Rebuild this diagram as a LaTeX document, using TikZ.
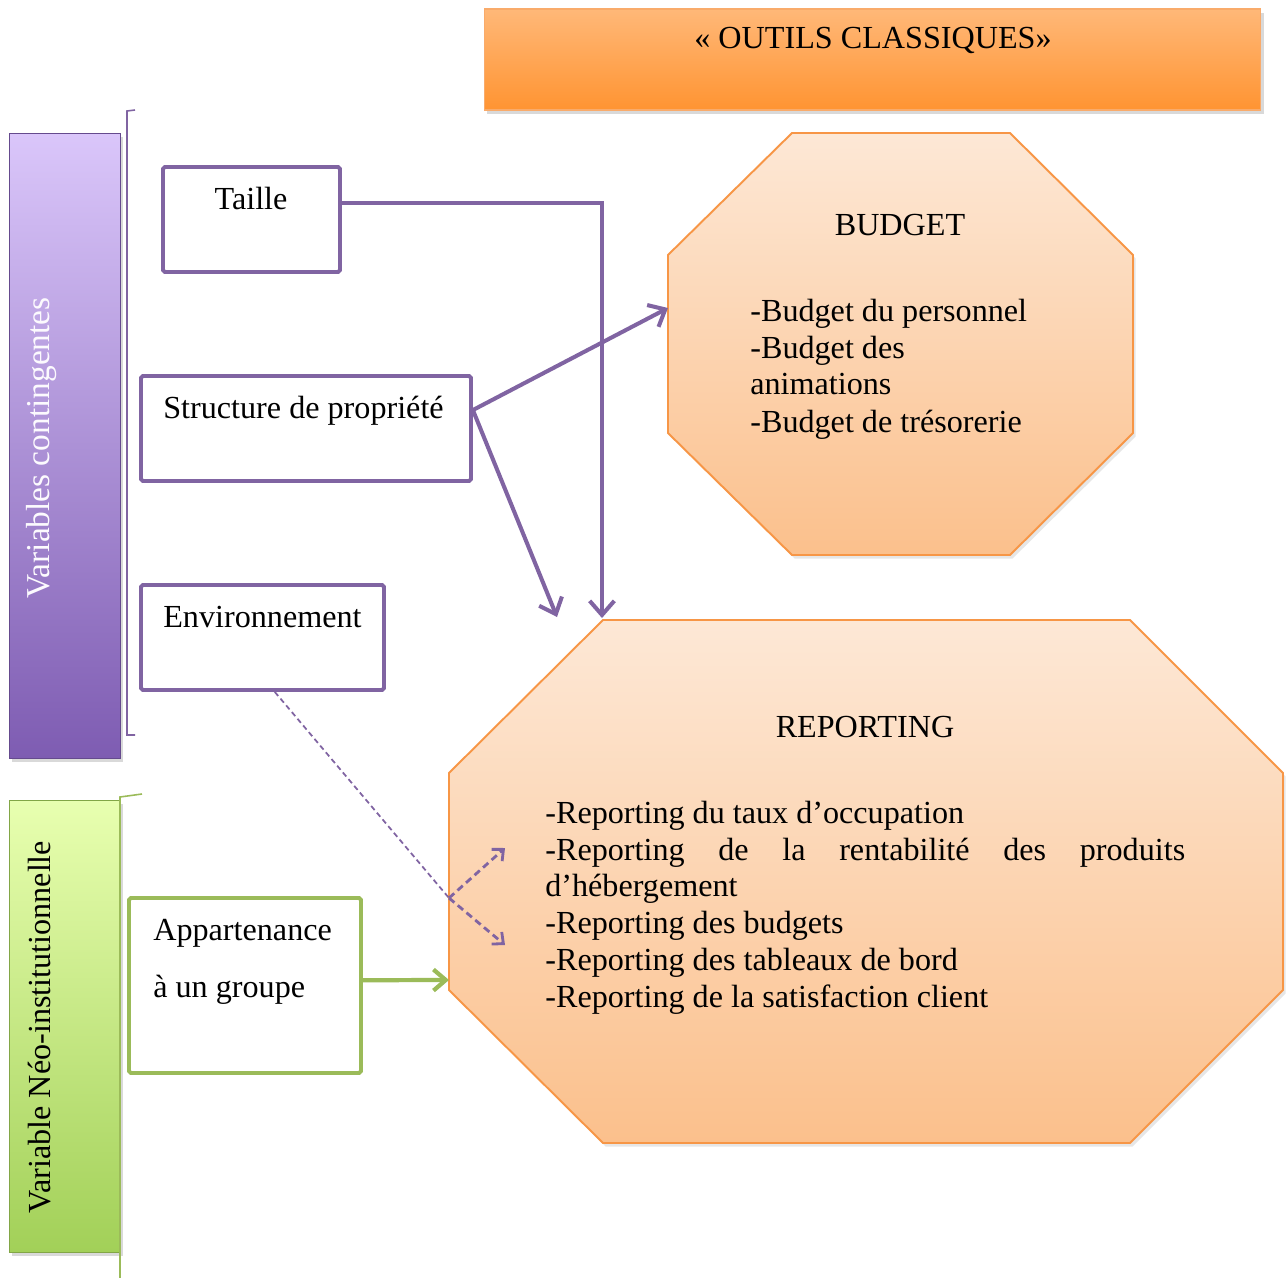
\documentclass[tikz,border=0pt]{standalone}
\usepackage{fontspec}
\setmainfont{Liberation Serif}
\usetikzlibrary{arrows.meta,shadows}

\definecolor{vpurple}{HTML}{8064A2}
\definecolor{vgreen}{HTML}{9BBB59}
\definecolor{vorange}{HTML}{F79646}
\definecolor{bantop}{HTML}{FFB878}
\definecolor{banbot}{HTML}{FF9432}
\definecolor{octtop}{HTML}{FDE8D6}
\definecolor{octbot}{HTML}{FBC08C}
\definecolor{pbartop}{HTML}{DAC6FA}
\definecolor{pbarbot}{HTML}{7E5CB2}
\definecolor{gbartop}{HTML}{E8FFB0}
\definecolor{gbarbot}{HTML}{A2D058}

\begin{document}
\begin{tikzpicture}[x=0.02cm,y=-0.02cm,
  txt/.style={font=\fontsize{18.3}{21}\selectfont,inner sep=0pt},
  shad/.style={drop shadow={opacity=0.3,shadow xshift=1.5pt,shadow yshift=-2.5pt}},
  bar/.style={draw=#1!80!black,line width=0.5pt,minimum width=2.22cm,inner sep=0pt,shad},
  pbox/.style={draw=vpurple,fill=white,line width=2.2pt,rounded corners=1pt,minimum height=2.1cm,inner sep=0pt},
  gbox/.style={draw=vgreen,fill=white,line width=2.2pt,rounded corners=1pt,inner sep=0pt},
  octagon/.style={draw=vorange,line width=1.1pt,top color=octtop,bottom color=octbot,
    drop shadow={opacity=0.2,shadow xshift=1.5pt,shadow yshift=-2pt}},
  parrow/.style={vpurple,line width=2.3pt,-{Straight Barb[length=8pt,width=14pt]}},
  garrow/.style={vgreen,line width=2.4pt,-{Straight Barb[length=7pt,width=12pt]}},
  dlong/.style={vpurple,line width=1pt,dash pattern=on 3pt off 2pt},
  dshort/.style={vpurple,line width=1.6pt,dash pattern=on 4pt off 2.5pt,-{Straight Barb[length=5pt,width=9pt]}}]

\useasboundingbox (0,0) rectangle (1286,1278);

% ---- the banner on top ----
\node[draw=vorange!80,line width=0.6pt,top color=bantop,bottom color=banbot,
  minimum width=15.54cm,minimum height=2.02cm,inner sep=0pt,shad] (banner) at (872.5,59.5) {};
\node[txt,anchor=base] (bannerTxt) at (873,48) {« OUTILS CLASSIQUES»};

% ---- the two vertical bars on the left ----
\node[bar=pbarbot,top color=pbartop,bottom color=pbarbot,minimum height=12.5cm] (contBar) at (64.5,445.5) {};
\node[txt,rotate=90,anchor=base,text=white!92!pbartop,font=\fontsize{19}{21}\selectfont] (contTxt) at (50,448) {Variables contingentes};
\node[bar=gbarbot,top color=gbartop,bottom color=gbarbot,minimum height=9.04cm] (neoBar) at (64.5,1026) {};
\node[txt,rotate=90,anchor=base] (neoTxt) at (51,1027) {Variable Néo-institutionnelle};

% brackets next to the bars
\draw[vpurple,line width=0.9pt] (135,110) -- (127,111) -- (127,735) -- (135,735);
\draw[vgreen,line width=0.9pt] (142,794) -- (120,797) -- (120,1278);

% ---- the two octagons ----
\path[octagon] (792,133) -- (1010,133) -- (1133,255) -- (1133,433) -- (1010,555)
  -- (792,555) -- (668,433) -- (668,255) -- cycle;
\path[octagon] (603,620) -- (1130,620) -- (1283,773) -- (1283,990) -- (1130,1143)
  -- (603,1143) -- (449,990) -- (449,773) -- cycle;

\node[txt,anchor=base] (budgetTitle) at (900,235) {BUDGET};
\foreach \y/\t in {321/{-Budget du personnel},358/{-Budget des},394/{animations},432/{-Budget de trésorerie}}{
  \node[txt,anchor=base west] (budget\y) at (750,\y) {\t};}

\node[txt,anchor=base] (repTitle) at (865,737) {REPORTING};
\foreach \y/\t in {823/{-Reporting du taux d’occupation},
  860/{\hbox to 12.8cm{-Reporting\hfill de\hfill la\hfill rentabilité\hfill des\hfill produits}},
  896/{d’hébergement},933/{-Reporting des budgets},970/{-Reporting des tableaux de bord},
  1007/{-Reporting de la satisfaction client}}{
  \node[txt,anchor=base west] (rep\y) at (545,\y) {\t};}

% ---- the boxes ----
\node[pbox,minimum width=3.54cm] (taille) at (251.5,219.5) {};
\node[txt,anchor=base] (tailleTxt) at (251,209) {Taille};
\node[pbox,minimum width=6.6cm] (struct) at (306,428.5) {};
\node[txt,anchor=base west] (structTxt) at (163,418) {Structure de propriété};
\node[pbox,minimum width=4.86cm] (env) at (262.5,637.5) {};
\node[txt,anchor=base west] (envTxt) at (163,627) {Environnement};
\node[gbox,minimum width=4.64cm,minimum height=3.5cm] (appart) at (245,985.5) {};
\node[txt,anchor=base west] (appartTxt) at (153,940) {Appartenance};
\node[txt,anchor=base west] (groupeTxt) at (153,997) {à un groupe};

% ---- end points on the octagons ----
\coordinate (budgetIn) at (668,308);
\coordinate (repNW) at (602,618);
\coordinate (repIn) at (557,617);
\coordinate (envFork) at (449,898);
\coordinate (forkUp) at (505,848);
\coordinate (forkDown) at (505,945);
\coordinate (repW) at (449,980);

% ---- connectors ----
\draw[parrow] ([yshift=9.4pt]taille.east) -| (repNW);
\draw[parrow] ([yshift=10.5pt]struct.east) -- (budgetIn);
\draw[parrow] ([yshift=10.5pt]struct.east) -- (repIn);
\draw[dlong] ([xshift=7pt]env.south) -- (envFork);
\draw[dshort] (envFork) -- (forkUp);
\draw[dshort] (envFork) -- (forkDown);
\draw[garrow] ([yshift=3pt]appart.east) -- (repW);

\end{tikzpicture}
\end{document}
